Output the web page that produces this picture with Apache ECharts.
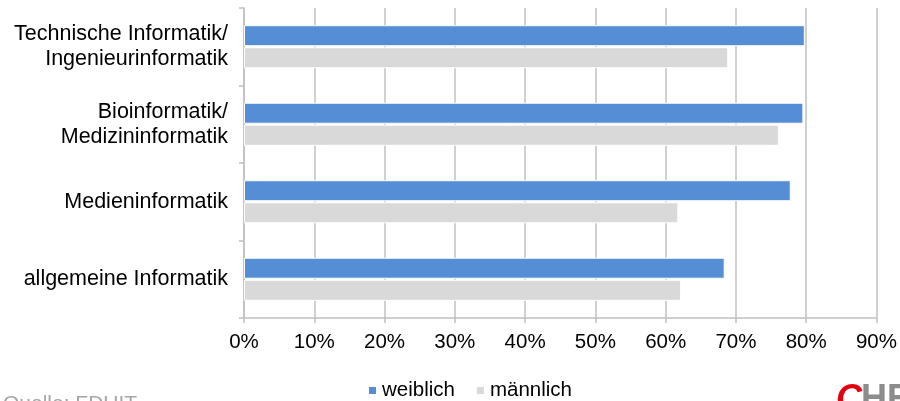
<!DOCTYPE html>
<html>
<head>
<meta charset="utf-8">
<script src="https://cdn.jsdelivr.net/npm/echarts@6/dist/echarts.min.js"></script>
<style>
html,body{margin:0;padding:0;background:#fff;}
#chart{width:900px;height:401px;}
</style>
</head>
<body>
<div id="chart"></div>
<script>
var categories = ['allgemeine Informatik', 'Medieninformatik', 'Bioinformatik/\nMedizininformatik', 'Technische Informatik/\nIngenieurinformatik'];
var weiblich = [68.4, 77.8, 79.6, 79.8];
var maennlich = [62.2, 61.8, 76.1, 68.9];
var seriesNames = ['weiblich', 'männlich'];
var xMin = 0, xMax = 90, xStep = 10;
var sourceText = 'Quelle: FDUIT';

var FONT = '"Liberation Sans", Arial, sans-serif';
var chart = echarts.init(document.getElementById('chart'), null, {renderer: 'canvas'});
chart.setOption({
  animation: false,
  backgroundColor: '#fff',
  textStyle: {fontFamily: FONT},
  grid: {left: 244, right: 22, top: 8, bottom: 83, containLabel: false},
  legend: {
    data: seriesNames,
    left: 362,
    top: 375,
    icon: 'rect',
    itemWidth: 9,
    itemHeight: 9,
    itemGap: 20,
    textStyle: {fontSize: 20.5, color: '#000', fontFamily: FONT}
  },
  xAxis: {
    type: 'value',
    min: xMin, max: xMax, interval: xStep,
    axisLine: {show: true, lineStyle: {color: '#C0C0C0', width: 1.5}},
    axisTick: {show: true, length: 5, lineStyle: {color: '#C0C0C0', width: 1.5}},
    splitLine: {show: true, lineStyle: {color: '#C0C0C0', width: 1.5}},
    axisLabel: {formatter: '{value}%', fontSize: 20.5, color: '#000', margin: 14, fontFamily: FONT}
  },
  yAxis: {
    type: 'category',
    data: categories,
    axisLine: {show: true, lineStyle: {color: '#C0C0C0', width: 1.5}},
    axisTick: {show: true, length: 5, lineStyle: {color: '#C0C0C0', width: 1.5}},
    axisLabel: {fontSize: 21.5, color: '#000', margin: 16, lineHeight: 25, align: 'right', fontFamily: FONT}
  },
  series: [
    {
      name: seriesNames[0], type: 'bar', data: weiblich,
      barWidth: 21, barGap: '5%',
      itemStyle: {color: '#558ED5', borderColor: '#fff', borderWidth: 1}
    },
    {
      name: seriesNames[1], type: 'bar', data: maennlich,
      barWidth: 21, barGap: '5%',
      itemStyle: {color: '#D9D9D9', borderColor: '#fff', borderWidth: 1}
    }
  ],
  graphic: [
    {type: 'text', left: 3, top: 394, style: {text: sourceText, fontSize: 21, fill: '#A6A6A6', fontFamily: FONT}},
    {type: 'text', left: 836, top: 382, style: {text: 'C', fontSize: 36, fontWeight: 'bold', fontStyle: 'italic', fill: '#E3000F', fontFamily: FONT}},
    {type: 'text', left: 861, top: 382, style: {text: 'HE', fontSize: 36, fontWeight: 'bold', fill: '#8C8C8C', fontFamily: FONT}}
  ]
});
</script>
</body>
</html>
